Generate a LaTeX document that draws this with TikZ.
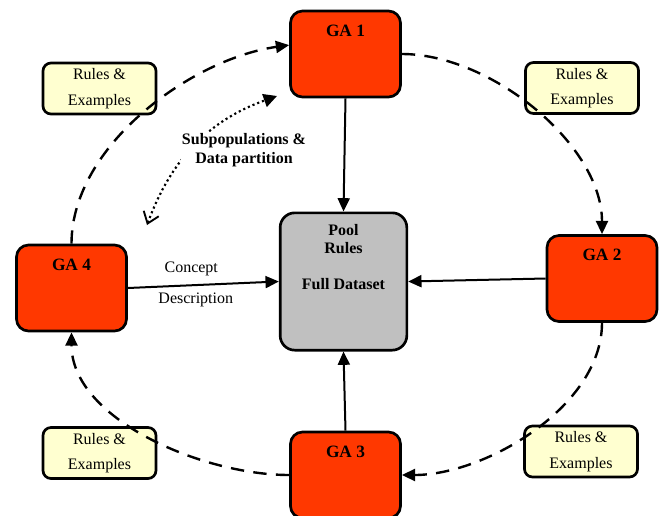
\documentclass[tikz,border=0pt]{standalone}
\usepackage{fontspec}
\setmainfont{Liberation Serif}
\usetikzlibrary{arrows.meta, positioning}

\definecolor{gared}{RGB}{255,56,0}
\definecolor{poolgray}{RGB}{192,192,192}
\definecolor{rulesyellow}{RGB}{255,255,208}

\begin{document}
\begin{tikzpicture}[
            x=0.75pt, y=-0.75pt,
            font=\fontsize{12}{14}\selectfont,
            base/.style = {rectangle, draw=black, line width=2pt, rounded corners=9pt},
            ga/.style = {base, fill=gared, minimum width=82.5pt, minimum height=64.5pt,
                label={[font=\bfseries\fontsize{13}{15}\selectfont, anchor=center, yshift=-15.75pt]north:#1}},
            pool/.style = {base, fill=poolgray, minimum width=95pt, minimum height=103pt, rounded corners=11pt},
            poolname/.style = {font=\bfseries\fontsize{12}{13.5}\selectfont, align=center, anchor=north, yshift=-6pt},
            rules/.style = {base, fill=rulesyellow, minimum width=84.75pt, minimum height=38.25pt, rounded corners=6pt,
                align=center, font=\fontsize{12}{19}\selectfont},
            flow/.style = {-{Triangle[length=10pt, width=9pt]}, line width=1.5pt},
            ring/.style = {flow, line width=1.8pt, dash pattern=on 10pt off 7pt},
            partition/.style = {{Straight Barb[length=8pt, width=12pt, line width=1.4pt]}-{Triangle[length=10pt, width=10pt]},
                line width=1.6pt, dash pattern=on 1.6pt off 2.2pt}
        ]
            \useasboundingbox (0,0) rectangle (661,515);

            % --- 1. Nodes ---
            \node [ga=GA 1] (ga1) at (345.5,54) {};
            \node [ga=GA 2] (ga2) at (602,278.5) {};
            \node [ga=GA 3] (ga3) at (345.5,475) {};
            \node [ga=GA 4] (ga4) at (71.5,288) {};

            \node [pool, label={[poolname]north:{Pool\\Rules\\[14pt]Full Dataset}}] (pool) at (343.5,281.5) {};

            \node [rules] (rex1) at (99.5,88.5) {Rules \&\\Examples};
            \node [rules] (rex2) at (582,88) {Rules \&\\Examples};
            \node [rules] (rex3) at (99.5,453) {Rules \&\\Examples};
            \node [rules] (rex4) at (581,451.5) {Rules \&\\Examples};

            \coordinate (partA) at (147,225);
            \coordinate (partB) at (277,96);

            % --- 2. Connections ---

            % dashed ring between the GAs
            \draw [ring] (ga4.north) to[out=90, in=188, looseness=0.85] (ga1.171);
            \draw [ring] (ga1.east) to[out=0, in=90, looseness=0.85] (ga2.north);
            \draw [ring] (ga2.south) to[out=270, in=0, looseness=0.85] (ga3.east);
            \draw [ring] (ga3.west) to[out=180, in=270, looseness=0.85] (ga4.south);

            % into the pool
            \draw [flow] (ga1.south) -- (pool.north);
            \draw [flow] (ga2.west) -- (pool.east);
            \draw [flow] (ga3.north) -- (pool.south);
            \draw [flow] (ga4.east) -- node[pos=0.42, above=3pt] {Concept} node[pos=0.45, below=1.5pt] {Description} (pool.west);

            % subpopulations (label on white, drawn over the dotted line)
            \draw [partition] (partA) to[bend left=25] (partB);
            \node [fill=white, inner sep=1pt, font=\bfseries\fontsize{12}{14}\selectfont, align=center] (partlabel) at (244,150) {Subpopulations \&\\Data partition};

        \end{tikzpicture}
\end{document}
